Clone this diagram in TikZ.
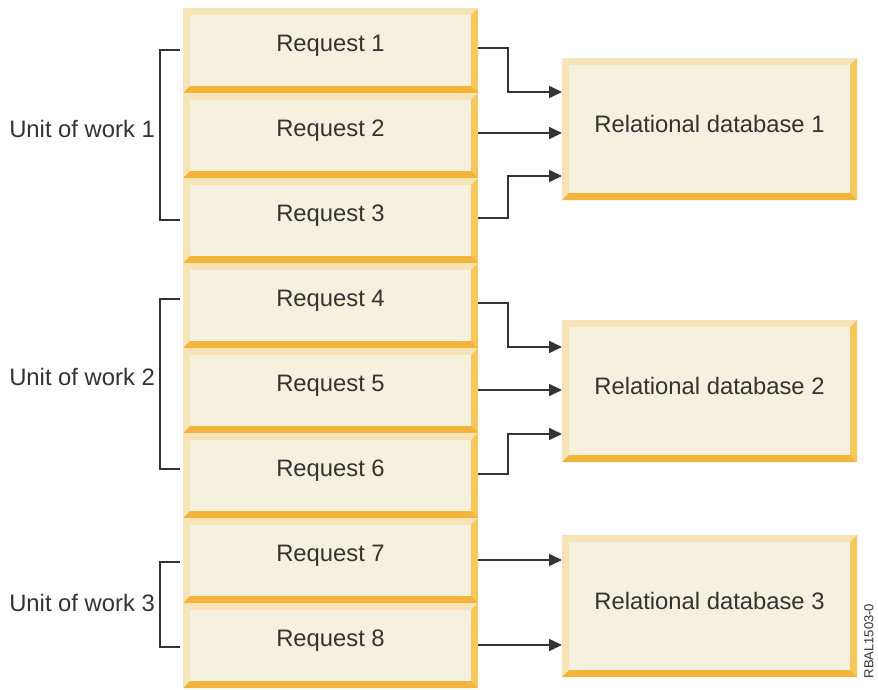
\documentclass[tikz,border=0pt]{standalone}
\usepackage{fontspec}
\setmainfont{Liberation Sans}
\usetikzlibrary{arrows.meta,calc}
\definecolor{bevlight}{HTML}{F7E4B6}
\definecolor{bevright}{HTML}{F6C75B}
\definecolor{bevbottom}{HTML}{F2B43A}
\definecolor{boxface}{HTML}{F6F0DF}
\definecolor{ink}{HTML}{333333}
\tikzset{
  lbl/.style={font=\fontsize{23.8}{28}\selectfont, text=ink, inner sep=0pt},
  conn/.style={draw=ink, line width=1.7pt, -{Triangle[length=13pt,width=12pt]}},
  brack/.style={draw=ink, line width=1.7pt},
  boxnode/.style={inner sep=0pt, outer sep=0pt}
}
\newcommand\bevbox[6]{%
  \fill[bevlight] (#2,#3) rectangle (#4,#5);
  \fill[bevright] (#4,#3) -- (#4,#5) -- (#4-7,#5-7) -- (#4-7,#3+7) -- cycle;
  \fill[bevbottom] (#2,#5) -- (#4,#5) -- (#4-7,#5-7) -- (#2+7,#5-7) -- cycle;
  \fill[boxface] (#2+7,#3+7) rectangle (#4-7,#5-7);
  \node[boxnode, minimum width={(#4-#2)*1pt}, minimum height={(#5-#3)*1pt}] (#1) at ({(#2+#4)/2},{(#3+#5)/2}) {};
  \node[lbl] (#1-t) at ([yshift=5pt]#1.center) {#6};
}
\begin{document}
\begin{tikzpicture}[x=1pt,y=-1pt]
\useasboundingbox (0,0) rectangle (878,690);
\fill[white] (0,0) rectangle (878,690);
% request boxes
\bevbox{r1}{183}{8}{478}{93}{Request 1}
\bevbox{r2}{183}{93}{478}{178}{Request 2}
\bevbox{r3}{183}{178}{478}{263}{Request 3}
\bevbox{r4}{183}{263}{478}{348}{Request 4}
\bevbox{r5}{183}{348}{478}{433}{Request 5}
\bevbox{r6}{183}{433}{478}{518}{Request 6}
\bevbox{r7}{183}{518}{478}{603}{Request 7}
\bevbox{r8}{183}{603}{478}{688}{Request 8}
% databases
\bevbox{db1}{562}{58}{857}{200}{Relational database 1}
\bevbox{db2}{562}{320}{857}{462}{Relational database 2}
\bevbox{db3}{562}{535}{857}{677}{Relational database 3}
% arrows
\draw[conn] ([yshift=2.5pt]r1.east) -- ++(30,0) |- ([yshift=37pt]db1.west);
\draw[conn] ([yshift=2.5pt]r2.east) -- ([yshift=2.5pt]r2.east -| db1.west);
\draw[conn] ([yshift=2.5pt]r3.east) -- ++(30,0) |- ([yshift=-47pt]db1.west);
\draw[conn] ([yshift=2.5pt]r4.east) -- ++(30,0) |- ([yshift=44pt]db2.west);
\draw[conn] ([yshift=0.5pt]r5.east) -- ([yshift=0.5pt]r5.east -| db2.west);
\draw[conn] ([yshift=1.5pt]r6.east) -- ++(30,0) |- ([yshift=-43pt]db2.west);
\draw[conn] ([yshift=0.5pt]r7.east) -- ([yshift=0.5pt]r7.east -| db3.west);
\draw[conn] ([yshift=0.5pt]r8.east) -- ([yshift=0.5pt]r8.east -| db3.west);
% brackets
\coordinate (b1a) at (160,50);
\coordinate (b1b) at (160,220);
\draw[brack] ([xshift=-3pt]r1.west |- b1a) -- (b1a) -- (b1b) -- ([xshift=-3pt]r3.west |- b1b);
\coordinate (b2a) at (160,299);
\coordinate (b2b) at (160,469);
\draw[brack] ([xshift=-3pt]r4.west |- b2a) -- (b2a) -- (b2b) -- ([xshift=-3pt]r6.west |- b2b);
\coordinate (b3a) at (160,562);
\coordinate (b3b) at (160,647);
\draw[brack] ([xshift=-3pt]r7.west |- b3a) -- (b3a) -- (b3b) -- ([xshift=-3pt]r8.west |- b3b);
% unit labels
\node[lbl, anchor=east] (u1) at (155,129) {Unit of work 1};
\node[lbl, anchor=east] (u2) at (155,377) {Unit of work 2};
\node[lbl, anchor=east] (u3) at (155,603) {Unit of work 3};
% figure id
\node[font=\fontsize{13}{15}\selectfont, text=ink, rotate=90, inner sep=0pt] (fid) at (869,641) {RBAL1503-0};
\end{tikzpicture}
\end{document}
